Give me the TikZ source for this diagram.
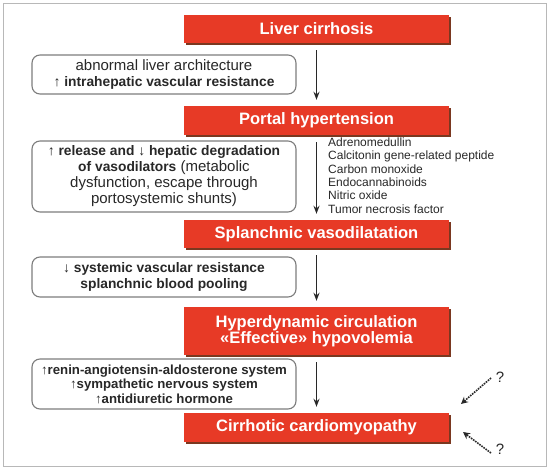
\documentclass[tikz,border=0pt]{standalone}
\usepackage{fontspec}
\setmainfont{Liberation Sans}
\usepackage{xcolor}
\usepackage{tikz}
\usetikzlibrary{shapes,arrows.meta,positioning,shadows}
\definecolor{stageRed}{RGB}{231,58,38}
\definecolor{stageShade}{RGB}{122,56,32}
\definecolor{boxGray}{RGB}{125,125,125}
\definecolor{inkGray}{RGB}{40,40,40}

\begin{document}
\begin{tikzpicture}[x=1pt, y=-1pt,
    stage/.style={rectangle, fill=stageRed, text=white, minimum width=265pt, inner sep=0pt, align=center, font=\fontsize{16.5}{16}\selectfont\bfseries, general shadow={fill=stageShade, shadow xshift=1.5pt, shadow yshift=-1.5pt}},
    mechanism/.style={rectangle, draw=boxGray, line width=1.1pt, rounded corners=8pt, fill=white, minimum width=264pt, inner sep=0pt, align=center, text=inkGray, font=\fontsize{15}{16}\selectfont},
    flow/.style={-{Stealth[length=8pt, width=6pt]}, line width=1.9pt, inkGray, shorten <=7pt, shorten >=6pt},
    unknown/.style={-{Stealth[length=7pt, width=7pt]}, line width=1.6pt, inkGray, densely dotted},
    mediators/.style={align=left, inner sep=0pt, text=inkGray, font=\fontsize{12}{13.4}\selectfont},
    query/.style={inner sep=0pt, text=inkGray, font=\fontsize{15}{15}\selectfont}
]
\useasboundingbox (0,0) rectangle (550,471);

% Frame
\draw[black!28, line width=1pt] (3,3) rectangle (546,466);

% Stages - red boxes down the right column
\node[stage, minimum height=28pt] (liver) at (316.5, 29) {Liver cirrhosis};
\node[stage, minimum height=29pt] (portal) at (316.5, 120.5) {Portal hypertension};
\node[stage, minimum height=28pt] (splanchnic) at (316.5, 234) {Splanchnic vasodilatation};
\node[stage, minimum height=48pt] (hyper) at (316.5, 331) {Hyperdynamic circulation\\«Effective» hypovolemia};
\node[stage, minimum height=29pt] (cardio) at (316.5, 427.5) {Cirrhotic cardiomyopathy};

% Mechanisms - rounded boxes on the left
\node[mechanism, minimum height=39pt] (architecture) at (164, 74.5) {abnormal liver architecture\\{\fontsize{13.8}{16}\selectfont\bfseries ↑ intrahepatic vascular resistance}};
\node[mechanism, minimum height=71pt] (release) at (164, 176.5) {{\fontsize{13.8}{16}\selectfont\bfseries ↑ release and ↓ hepatic degradation}\\{\fontsize{13.8}{16}\selectfont\bfseries of vasodilators} (metabolic\\dysfunction, escape through\\portosystemic shunts)};
\node[mechanism, minimum height=40pt, font=\fontsize{13.8}{16}\selectfont\bfseries] (resistance) at (164, 277) {↓ systemic vascular resistance\\splanchnic blood pooling};
\node[mechanism, minimum height=50pt, font=\fontsize{13.2}{14.5}\selectfont\bfseries] (hormones) at (164, 384) {↑renin-angiotensin-aldosterone system\\↑sympathetic nervous system\\↑antidiuretic hormone};

% Vasodilators list
\node[mediators, anchor=west] (list) at (328, 175.5) {Adrenomedullin\\Calcitonin gene-related peptide\\Carbon monoxide\\Endocannabinoids\\Nitric oxide\\Tumor necrosis factor};

% Main cascade
\draw[flow] (liver) -- (portal);
\draw[flow] (portal) -- (splanchnic);
\draw[flow] (splanchnic) -- (hyper);
\draw[flow] (hyper) -- (cardio);

% Unknown contributions
\node[query] (q1) at (500, 377) {?};
\node[query] (q2) at (500, 449) {?};
\coordinate (q1from) at (491, 378);
\coordinate (q1to) at (461, 404);
\coordinate (q2from) at (491, 453);
\coordinate (q2to) at (463, 432);
\draw[unknown] (q1from) -- (q1to);
\draw[unknown] (q2from) -- (q2to);

\end{tikzpicture}
\end{document}
